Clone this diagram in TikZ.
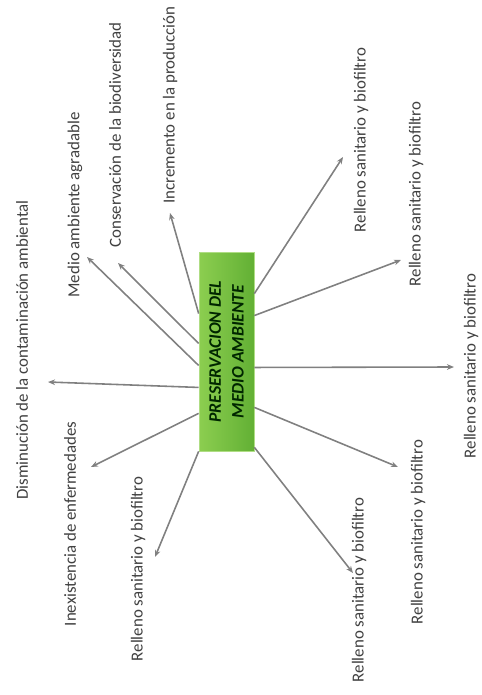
\documentclass[tikz,border=0pt]{standalone}
\usepackage{fontspec}
\setmainfont{Carlito}
\usetikzlibrary{arrows.meta,calc}
\definecolor{boxlight}{RGB}{140,206,80}
\definecolor{boxdark}{RGB}{98,176,52}
\definecolor{linegray}{RGB}{128,128,128}

\begin{document}
\begin{tikzpicture}[x=0.02cm,y=-0.02cm]
  \useasboundingbox (0,0) rectangle (482,695);
  \node[minimum width=1.1cm,minimum height=3.98cm,inner sep=0pt,
        left color=boxlight,right color=boxdark,draw=boxlight!70!white] (box) at (226.5,351.5) {};
  \node[rotate=90,align=center,text=black!85!green,
        font=\fontsize{10}{13}\selectfont\bfseries\itshape] (title) at (box.center)
        {PRESERVACION DEL\\MEDIO AMBIENTE};
  \begin{scope}[every node/.style={rotate=90,text=black!75,font=\fontsize{9.6}{11}\selectfont}]
    \node (dism) at (22,350)  {Disminución de la contaminación ambiental};
    \node (medio) at (75,205) {Medio ambiente agradable};
    \node (cons) at (115,135) {Conservación de la biodiversidad};
    \node (incr) at (170,105) {Incremento en la producción};
    \node (inex) at (70,524)  {Inexistencia de enfermedades};
    \node (rel1) at (361,140) {Relleno sanitario y biofiltro};
    \node (rel2) at (416,194) {Relleno sanitario y biofiltro};
    \node (rel3) at (471,366) {Relleno sanitario y biofiltro};
    \node (rel4) at (418,532) {Relleno sanitario y biofiltro};
    \node (rel5) at (359,590) {Relleno sanitario y biofiltro};
    \node (rel6) at (138,569) {Relleno sanitario y biofiltro};
  \end{scope}
  % arrow tips
  \coordinate (t-dism) at (48,382);
  \coordinate (t-medio) at (87,257);
  \coordinate (t-cons) at (118,263);
  \coordinate (t-incr) at (170,213);
  \coordinate (t-inex) at (91,467);
  \coordinate (t-rel1) at (343,157);
  \coordinate (t-rel2) at (401,260);
  \coordinate (t-rel3) at (454,367);
  \coordinate (t-rel4) at (398,467);
  \coordinate (t-rel5) at (353,573);
  \coordinate (t-rel6) at (155,557);
  \begin{scope}[>={Stealth[length=4pt,width=3.2pt]},every edge/.style={draw=linegray,line width=0.9pt}]
    \path[->] ($(box.north west)!0.31!(box.south west)$) edge (t-incr);
    \path[->] ($(box.north west)!0.46!(box.south west)$) edge (t-cons);
    \path[->] ($(box.north west)!0.57!(box.south west)$) edge (t-medio);
    \path[->] ($(box.north west)!0.68!(box.south west)$) edge (t-dism);
    \path[->] ($(box.north west)!0.81!(box.south west)$) edge (t-inex);
    \path[->] (box.south west) edge (t-rel6);
    \path[->] ($(box.north east)!0.21!(box.south east)$) edge (t-rel1);
    \path[->] ($(box.north east)!0.32!(box.south east)$) edge (t-rel2);
    \path[->] ($(box.north east)!0.58!(box.south east)$) edge (t-rel3);
    \path[->] ($(box.north east)!0.78!(box.south east)$) edge (t-rel4);
    \path[->] ($(box.north east)!0.98!(box.south east)$) edge (t-rel5);
  \end{scope}
\end{tikzpicture}
\end{document}
